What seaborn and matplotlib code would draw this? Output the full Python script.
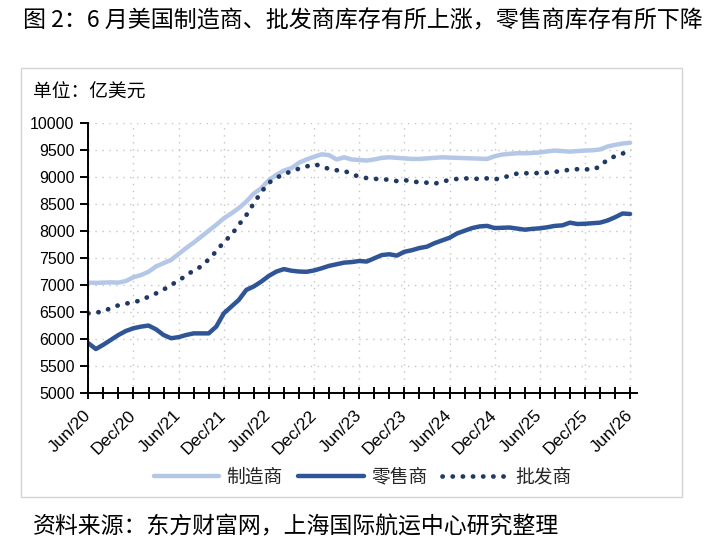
import numpy as np
import pandas as pd
import seaborn as sns
import matplotlib.pyplot as plt
import matplotlib.transforms as mtransforms
from matplotlib.patches import Rectangle

# monthly inventories, Jun/20 .. Jun/26 (亿美元)
manufacturers = [7050, 7045, 7050, 7055, 7050, 7080, 7150, 7190, 7250, 7350,
                 7410, 7470, 7580, 7690, 7790, 7900, 8010, 8120, 8240, 8330,
                 8430, 8550, 8700, 8800, 8950, 9045, 9125, 9170, 9270, 9330,
                 9380, 9425, 9410, 9330, 9370, 9330, 9320, 9310, 9330, 9360,
                 9370, 9360, 9350, 9340, 9340, 9350, 9360, 9370, 9365, 9360,
                 9355, 9350, 9345, 9340, 9390, 9420, 9435, 9445, 9445, 9450,
                 9460, 9480, 9495, 9485, 9475, 9485, 9495, 9500, 9515, 9570,
                 9600, 9625, 9640]
retailers = [5930, 5820, 5900, 5990, 6080, 6155, 6205, 6235, 6255, 6185,
             6080, 6020, 6040, 6080, 6110, 6110, 6110, 6235, 6480, 6605,
             6730, 6915, 6980, 7070, 7175, 7255, 7300, 7270, 7255, 7250,
             7275, 7315, 7360, 7390, 7420, 7430, 7450, 7440, 7500, 7560,
             7575, 7550, 7620, 7650, 7690, 7715, 7780, 7830, 7880, 7960,
             8010, 8060, 8090, 8100, 8060, 8065, 8070, 8050, 8030, 8045,
             8055, 8075, 8100, 8110, 8160, 8135, 8140, 8150, 8160, 8200,
             8260, 8330, 8320]
wholesalers = [6480, 6495, 6515, 6580, 6630, 6660, 6690, 6720, 6790, 6850,
               6920, 7010, 7080, 7190, 7270, 7350, 7480, 7630, 7800, 7930,
               8120, 8300, 8520, 8730, 8900, 8990, 9060, 9110, 9160, 9200,
               9240, 9210, 9150, 9130, 9120, 9060, 9010, 8985, 8970, 8970,
               8950, 8930, 8950, 8920, 8910, 8900, 8880, 8920, 8950, 8970,
               8980, 8975, 8970, 8980, 8960, 8990, 9030, 9070, 9075, 9075,
               9080, 9085, 9100, 9120, 9140, 9150, 9150, 9140, 9200, 9330,
               9390, 9440, 9480]
tick_labels = ["Jun/20", "Dec/20", "Jun/21", "Dec/21", "Jun/22", "Dec/22",
               "Jun/23", "Dec/23", "Jun/24", "Dec/24", "Jun/25", "Dec/25",
               "Jun/26"]

month = np.arange(len(manufacturers))
df = pd.DataFrame({"month": month, "制造商": manufacturers,
                   "零售商": retailers, "批发商": wholesalers})

sns.set_theme(style="white")
plt.rcParams["font.family"] = ["Liberation Sans", "Noto Sans CJK SC", "DejaVu Sans"]
cjk = ["Noto Sans CJK SC", "DejaVu Sans"]

fig = plt.figure(figsize=(7.18, 5.45), dpi=100)
ax = fig.add_axes([0.123, 0.2783, 0.764, 0.4955])

# outer frame
fig.patches.append(Rectangle((0.0292, 0.0881), 0.920, 0.787, transform=fig.transFigure,
                             fill=False, edgecolor="#d4d4d4", linewidth=1.0))

sns.lineplot(data=df, x="month", y="制造商", ax=ax, color="#b4c7e7",
             linewidth=3.2, label="制造商")
sns.lineplot(data=df, x="month", y="零售商", ax=ax, color="#2f5597",
             linewidth=3.2, label="零售商")
sns.lineplot(data=df, x="month", y="批发商", ax=ax, color="#1f3864",
             linewidth=3.4, label="批发商", linestyle=(0, (0.05, 2.1)),
             dash_capstyle="round")

ax.set_xlim(0, 72.9)
ax.set_ylim(5000, 10000)
ax.set_yticks(np.arange(5000, 10001, 500))
ax.set_xticks(np.arange(0, 73, 6))
ax.set_xticks(np.arange(0, 73, 2), minor=True)
ax.set_xticklabels(tick_labels, rotation=45, ha="right", va="center",
                   rotation_mode="anchor")
ax.set_xlabel("")
ax.set_ylabel("")

# nudge rotated labels a little to the right and down, like the original
shift = mtransforms.ScaledTranslation(0.06, -0.03, fig.dpi_scale_trans)
for lab in ax.get_xticklabels():
    lab.set_transform(lab.get_transform() + shift)

ax.grid(True, which="major", color="#c4c4c4", linewidth=1.0,
        linestyle=(0, (1, 4)))
for s in ["top", "right"]:
    ax.spines[s].set_visible(False)
for s in ["left", "bottom"]:
    ax.spines[s].set_color("black")
    ax.spines[s].set_linewidth(1.4)

ax.tick_params(axis="y", which="major", direction="out", length=6, width=1.4,
               labelsize=11.5, left=True, colors="black", pad=4)
ax.tick_params(axis="x", which="both", direction="inout", length=8, width=1.4,
               bottom=True, colors="black")
ax.tick_params(axis="x", which="major", labelsize=12.5, pad=10)

leg = ax.legend(loc="center", bbox_to_anchor=(0.5, -0.31), ncol=3, frameon=False,
                prop={"family": cjk, "size": 13.5}, handlelength=3.5,
                handletextpad=0.4, columnspacing=0.8)

fig.text(0.032, 0.961, "图 2：6 月美国制造商、批发商库存有所上涨，零售商库存有所下降",
         family=cjk, fontsize=16.6, va="center", ha="left", color="black")
fig.text(0.046, 0.831, "单位：亿美元", family=cjk, fontsize=13.5,
         va="center", ha="left", color="black")
fig.text(0.046, 0.033, "资料来源：东方财富网，上海国际航运中心研究整理",
         family=cjk, fontsize=16.5, va="center", ha="left", color="black")

fig.savefig("out.png", dpi=100)
